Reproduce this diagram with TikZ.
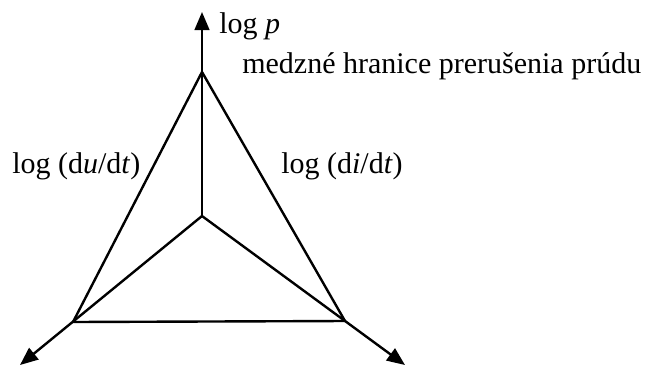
\documentclass[tikz,border=0pt]{standalone}
\usepackage{fontspec}
\setmainfont{Liberation Serif}
\usetikzlibrary{arrows.meta}
\begin{document}
\begin{tikzpicture}[x=0.75pt,y=-0.75pt,
  ln/.style={line width=1.8pt, line join=miter},
  ax/.style={ln,-{Triangle[length=13.5pt,width=11pt]}},
  lbl/.style={font=\fontsize{22.5pt}{26pt}\selectfont, inner sep=0pt}]
\useasboundingbox (0,0) rectangle (646,365);
\coordinate (C) at (202,216);
\coordinate (T) at (202,72);
\coordinate (L) at (73,322);
\coordinate (R) at (345,321);
\coordinate (Tt) at (202,12);
\coordinate (Lt) at (20,365);
\coordinate (Rt) at (405,365);
\draw[ln] (T) -- (L) -- (R) -- cycle;
\draw[ax] (C) -- (Tt);
\draw[ax] (C) -- (Lt);
\draw[ax] (C) -- (Rt);
\node[lbl, anchor=base west] (lp) at (219,33) {log \textit{p}};
\node[lbl, anchor=base west] (mh) at (242,73) {medzné hranice prerušenia prúdu};
\node[lbl, anchor=base west] (lu) at (12,173) {log (d\textit{u}/d\textit{t})};
\node[lbl, anchor=base east] (li) at (403,173) {log (d\textit{i}/d\textit{t})};
\end{tikzpicture}
\end{document}
